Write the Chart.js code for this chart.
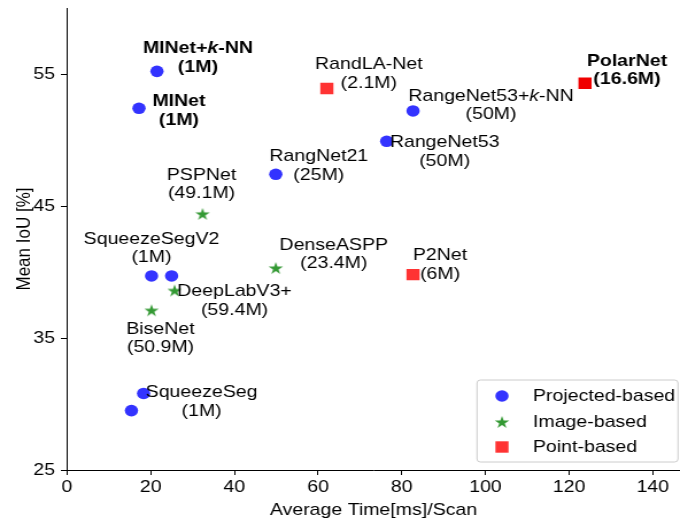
<!DOCTYPE html>
<html>
<head>
<meta charset="utf-8">
<script src="https://cdn.jsdelivr.net/npm/chart.js@4.4.0/dist/chart.umd.min.js"></script>
<style>
  html, body { margin: 0; padding: 0; background: #fff; overflow: hidden; }
  /* the reference is slightly stretched horizontally, so draw narrower and stretch */
  #wrap { width: 592px; height: 521px; transform: scaleX(1.1486); transform-origin: 0 0; }
  canvas { display: block; }
</style>
</head>
<body>
<div id="wrap"><canvas id="chart" width="592" height="521"></canvas></div>
<script>
// projected-based methods
const projNames  = ['MINet+$k$-NN', 'MINet', 'RangeNet53+$k$-NN', 'RangeNet53', 'RangNet21', 'SqueezeSegV2', '', 'SqueezeSeg', ''];
const projParams = ['(1M)', '(1M)', '(50M)', '(50M)', '(25M)', '(1M)', '', '(1M)', ''];
const projTime   = [21.5, 17.2, 82.7, 76.4, 49.9, 20.2, 25.0, 18.3, 15.4];
const projIoU    = [55.2, 52.4, 52.2, 49.9, 47.4, 39.7, 39.7, 30.8, 29.5];

// image-based methods
const imgNames  = ['PSPNet', 'DenseASPP', 'DeepLabV3+', 'BiseNet'];
const imgParams = ['(49.1M)', '(23.4M)', '(59.4M)', '(50.9M)'];
const imgTime   = [32.4, 49.9, 25.7, 20.2];
const imgIoU    = [44.4, 40.3, 38.6, 37.1];

// point-based methods
const ptNames  = ['RandLA-Net', 'PolarNet', 'P2Net'];
const ptParams = ['(2.1M)', '(16.6M)', '(6M)'];
const ptTime   = [62.1, 123.8, 82.7];
const ptIoU    = [53.9, 54.3, 39.8];

const seriesLabels = ['Projected-based', 'Image-based', 'Point-based'];
const xTicks = [0, 20, 40, 60, 80, 100, 120, 140];
const yTicks = [25, 35, 45, 55];

const SX = 680 / 592;
const FAM = '"Liberation Sans", Arial, Helvetica, sans-serif';
const FS = 17;
Chart.defaults.font.family = FAM;
Chart.defaults.font.size = FS;
Chart.defaults.color = '#000';

const BLUE = 'rgba(0,0,255,0.8)';
const GREEN = 'rgba(0,128,0,0.8)';
const RED = 'rgba(255,0,0,0.8)';

// label offsets from the marker, in screen px: [dx, dy of first line, bold]
const labelPos = {
  'MINet+$k$-NN': [41, -23, true],
  'MINet': [40, -7, true],
  'RangeNet53+$k$-NN': [78, -15],
  'RangeNet53': [58, 1],
  'RangNet21': [43, -18],
  'SqueezeSegV2': [0, -37],
  'SqueezeSeg': [58, -1],
  'PSPNet': [-1, -39],
  'DenseASPP': [58, -23],
  'DeepLabV3+': [60, 1],
  'BiseNet': [9, 19],
  'RandLA-Net': [42, -24],
  'PolarNet': [42, -22, true],
  'P2Net': [27, -19]
};
const LINE = 18.5;

function makeStar(color) {
  const c = document.createElement('canvas');
  c.width = 14; c.height = 14;
  const g = c.getContext('2d');
  const R = 6.6, r = R * 0.382;
  g.beginPath();
  for (let i = 0; i < 10; i++) {
    const a = -Math.PI / 2 + i * Math.PI / 5;
    const rad = i % 2 ? r : R;
    g.lineTo(7 + rad * Math.cos(a), 7.6 + rad * Math.sin(a));
  }
  g.closePath();
  g.fillStyle = color;
  g.fill();
  return c;
}
const starImg = makeStar(GREEN);

const toPts = (xs, ys) => xs.map((x, i) => ({ x: x, y: ys[i] }));
const allNames = [projNames, imgNames, ptNames];
const allParams = [projParams, imgParams, ptParams];

function drawLabel(ctx, x, y, text, bold) {
  const parts = text.split('$');
  const fonts = parts.map((p, i) => `${i % 2 ? 'italic ' : ''}${bold ? 'bold ' : ''}${FS}px ${FAM}`);
  const widths = parts.map((p, i) => { ctx.font = fonts[i]; return ctx.measureText(p).width; });
  let cx = x - widths.reduce((a, b) => a + b, 0) / 2;
  ctx.textAlign = 'left';
  ctx.textBaseline = 'middle';
  parts.forEach((p, i) => { ctx.font = fonts[i]; ctx.fillText(p, cx, y); cx += widths[i]; });
}

const annotate = {
  id: 'annotate',
  afterDatasetsDraw(chart) {
    const ctx = chart.ctx;
    ctx.save();
    ctx.fillStyle = '#000';
    chart.data.datasets.forEach((ds, di) => {
      chart.getDatasetMeta(di).data.forEach((el, j) => {
        const name = allNames[di][j];
        if (!name) return;
        const [dx, dy, bold] = labelPos[name];
        const x = el.x + dx / SX;
        drawLabel(ctx, x, el.y + dy, name, bold);
        drawLabel(ctx, x, el.y + dy + LINE, allParams[di][j], bold);
      });
    });
    ctx.restore();
  }
};

const legendBox = {
  id: 'legendBox',
  afterDraw(chart) {
    const ctx = chart.ctx;
    ctx.save();
    const x0 = 477 / SX, x1 = 678 / SX, y0 = 380, y1 = 462, rr = 3;
    ctx.beginPath();
    ctx.roundRect(x0, y0, x1 - x0, y1 - y0, rr);
    ctx.fillStyle = 'rgba(255,255,255,0.8)';
    ctx.fill();
    ctx.strokeStyle = '#cccccc';
    ctx.lineWidth = 1;
    ctx.stroke();
    const mx = 502 / SX, tx = 533 / SX, rows = [396, 422, 447];
    ctx.fillStyle = BLUE;
    ctx.beginPath(); ctx.arc(mx, rows[0], 5.8, 0, Math.PI * 2); ctx.fill();
    ctx.drawImage(starImg, mx - 7, rows[1] - 7);
    ctx.fillStyle = RED;
    ctx.fillRect(mx - 5.7, rows[2] - 5.7, 11.4, 11.4);
    ctx.fillStyle = '#000';
    ctx.font = `${FS}px ${FAM}`;
    ctx.textAlign = 'left';
    ctx.textBaseline = 'middle';
    seriesLabels.forEach((t, i) => ctx.fillText(t, tx, rows[i]));
    ctx.restore();
  }
};

new Chart(document.getElementById('chart'), {
  type: 'scatter',
  data: {
    datasets: [
      {
        label: seriesLabels[0],
        data: toPts(projTime, projIoU),
        pointStyle: 'circle',
        pointRadius: 5.8,
        backgroundColor: BLUE,
        borderWidth: 0
      },
      {
        label: seriesLabels[1],
        data: toPts(imgTime, imgIoU),
        pointStyle: starImg,
        pointRadius: 6,
        backgroundColor: GREEN,
        borderWidth: 0
      },
      {
        label: seriesLabels[2],
        data: toPts(ptTime, ptIoU),
        pointStyle: 'rect',
        pointRadius: 8.1,
        backgroundColor: c => ptNames[c.dataIndex] === 'PolarNet' ? 'rgba(240,0,0,1)' : RED,
        borderWidth: 0
      }
    ]
  },
  options: {
    responsive: false,
    animation: false,
    layout: { autoPadding: false, padding: { top: 8, right: 0, left: 0, bottom: 0 } },
    plugins: { legend: { display: false }, tooltip: { enabled: false } },
    scales: {
      x: {
        type: 'linear',
        min: 0, max: 146.5,
        afterBuildTicks: s => { s.ticks = xTicks.map(v => ({ value: v })); },
        afterFit: s => { s.height = 51; s.paddingLeft = 0; s.paddingRight = 0; },
        grid: { drawOnChartArea: false, tickLength: 5, tickColor: '#000' },
        border: { display: true, color: '#000', width: 1 },
        ticks: { padding: 2, maxRotation: 0, color: '#000' },
        title: { display: true, text: 'Average Time[ms]/Scan', padding: { top: 0, bottom: 0.5 }, color: '#000' }
      },
      y: {
        type: 'linear',
        min: 25, max: 60,
        afterBuildTicks: s => { s.ticks = yTicks.map(v => ({ value: v })); },
        afterFit: s => { s.width = 67 / SX; s.paddingTop = 0; s.paddingBottom = 0; },
        grid: { drawOnChartArea: false, tickLength: 5.3, tickColor: '#000' },
        border: { display: true, color: '#000', width: 1 },
        ticks: { padding: 5, color: '#000' },
        title: { display: true, text: 'Mean IoU [%]', padding: { top: 11, bottom: 0 }, color: '#000' }
      }
    }
  },
  plugins: [annotate, legendBox]
});
</script>
</body>
</html>
